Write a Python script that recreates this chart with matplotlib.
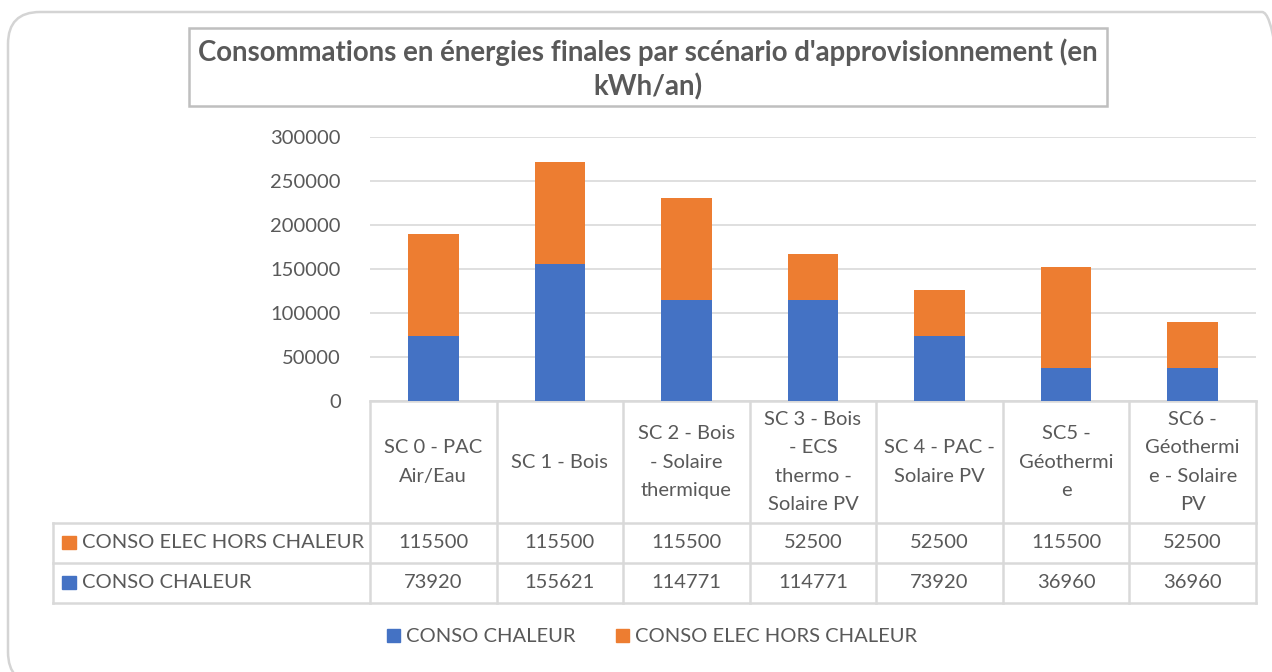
import numpy as np
import matplotlib.pyplot as plt
from matplotlib.patches import FancyBboxPatch, Rectangle, Patch
import matplotlib.transforms as mtransforms

plt.rcParams['font.family'] = ['Lato', 'DejaVu Sans']

categories = ["SC 0 - PAC\nAir/Eau", "SC 1 - Bois", "SC 2 - Bois\n- Solaire\nthermique",
              "SC 3 - Bois\n- ECS\nthermo -\nSolaire PV", "SC 4 - PAC -\nSolaire PV",
              "SC5 -\nGéothermi\ne", "SC6 -\nGéothermi\ne - Solaire\nPV"]
conso_chaleur = [73920, 155621, 114771, 114771, 73920, 36960, 36960]
conso_elec = [115500, 115500, 115500, 52500, 52500, 115500, 52500]
series_names = ["CONSO CHALEUR", "CONSO ELEC HORS CHALEUR"]
yticks = [0, 50000, 100000, 150000, 200000, 250000, 300000]

blue = '#4472C4'
orange = '#ED7D31'
txt = '#595959'
grid = '#D9D9D9'
fs = 14.5

W, H = 1272, 672
fig = plt.figure(figsize=(W / 100, H / 100), dpi=100)
px = mtransforms.IdentityTransform()

# outer rounded frame (pixel coords, origin bottom-left)
frame = FancyBboxPatch((8, H - 684), 1294 - 8, 684 - 12,
                       boxstyle="round,pad=0,rounding_size=32", transform=px,
                       fc='none', ec='#D4D4D4', lw=1.8, zorder=-5)
fig.patches.append(frame)

# title box
fig.patches.append(Rectangle((189 / W, 1 - 106 / H), (1107 - 189) / W, (106 - 28) / H,
                             transform=fig.transFigure, fc='none', ec='#BFBFBF', lw=1.8, zorder=-5))
fig.text(648 / W, 1 - 52 / H, "Consommations en énergies finales par scénario d'approvisionnement (en",
         ha='center', va='center', fontsize=19.9, fontweight='bold', color=txt)
fig.text(648 / W, 1 - 87 / H, "kWh/an)", ha='center', va='center', fontsize=19.9,
         fontweight='bold', color=txt)

left, right, top, bottom = 370, 1256, 137, 401
ax = fig.add_axes([left / W, 1 - bottom / H, (right - left) / W, (bottom - top) / H])
ax.patch.set_alpha(0)
x = np.arange(len(categories))
ax.bar(x, conso_chaleur, width=0.4, color=blue, zorder=3)
ax.bar(x, conso_elec, width=0.4, bottom=conso_chaleur, color=orange, zorder=3)
ax.set_xlim(-0.5, len(categories) - 0.5)
ax.set_ylim(0, 300000)
ax.set_yticks(yticks)
ax.set_yticklabels([str(v) for v in yticks], fontsize=fs, color=txt)
ax.tick_params(axis='y', length=0, pad=21)
ax.set_xticks([])
ax.yaxis.grid(True, color=grid, lw=1.2, zorder=0)
for s in ax.spines.values():
    s.set_visible(False)

# data table below the axes
tr = mtransforms.blended_transform_factory(ax.transData, ax.transAxes)
ph = bottom - top
col_w = (right - left) / len(categories)
xl = -0.5 - (left - 53) / col_w
r0, r1, r2 = -(523 - bottom) / ph, -(563 - bottom) / ph, -(603 - bottom) / ph
lc = '#D9D9D9'
for k in range(len(categories) + 1):
    ax.plot([k - 0.5, k - 0.5], [0, r2], transform=tr, color=lc, lw=1.8, clip_on=False)
ax.plot([xl, xl], [r0, r2], transform=tr, color=lc, lw=1.8, clip_on=False)
ax.plot([-0.5, len(categories) - 0.5], [0, 0], transform=tr, color=lc, lw=1.8, clip_on=False)
for yy in (r0, r1, r2):
    ax.plot([xl, len(categories) - 0.5], [yy, yy], transform=tr, color=lc, lw=1.8, clip_on=False)

for i, c in enumerate(categories):
    ax.text(i, r0 / 2, c, transform=tr, ha='center', va='center', fontsize=fs, color=txt,
            linespacing=1.82)
    ax.text(i, (r0 + r1) / 2, str(conso_elec[i]), transform=tr, ha='center', va='center',
            fontsize=fs, color=txt)
    ax.text(i, (r1 + r2) / 2, str(conso_chaleur[i]), transform=tr, ha='center', va='center',
            fontsize=fs, color=txt)

for yy, name, col in (((r0 + r1) / 2, series_names[1], orange), ((r1 + r2) / 2, series_names[0], blue)):
    ax.add_patch(Rectangle((xl + 9 / col_w, yy - 5.5 / ph), 14 / col_w, 13 / ph, transform=tr,
                           color=col, clip_on=False))
    ax.text(xl + 29 / col_w, yy, name, transform=tr, ha='left', va='center', fontsize=fs, color=txt)

handles = [Patch(color=blue, label=series_names[0]), Patch(color=orange, label=series_names[1])]
fig.legend(handles=handles, loc='center', bbox_to_anchor=(652 / W, 1 - 637 / H), ncol=2,
           frameon=False, fontsize=fs, labelcolor=txt, handlelength=0.65, handleheight=0.65,
           handletextpad=0.3, columnspacing=2.0)

fig.savefig('out.png', dpi=100)
